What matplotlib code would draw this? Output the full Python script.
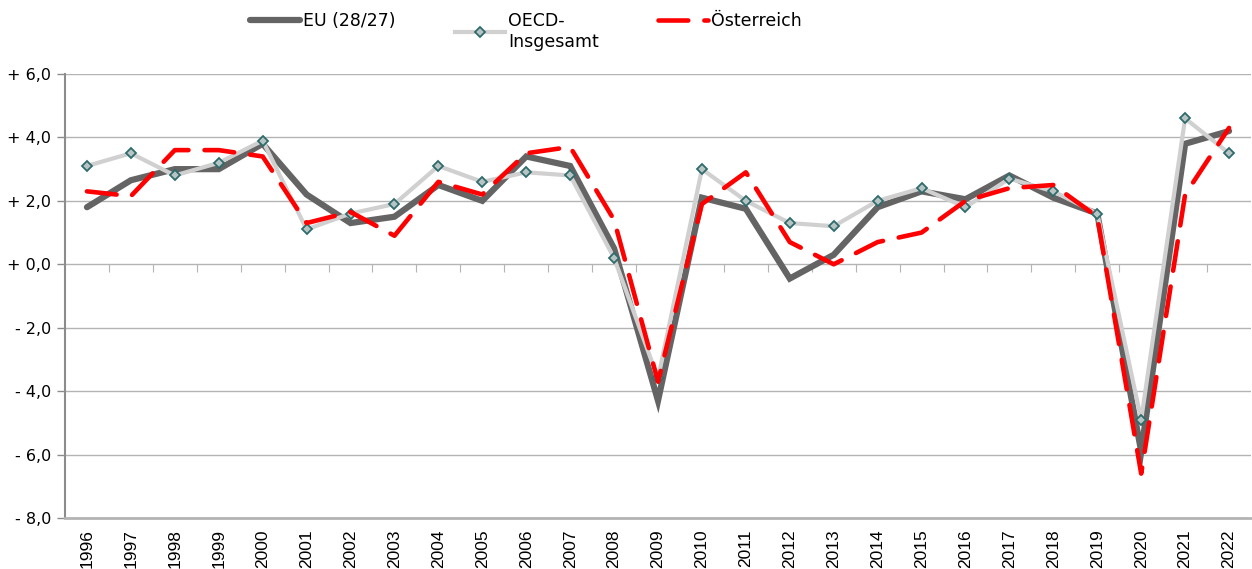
import numpy as np
import matplotlib
matplotlib.use('Agg')
import matplotlib.pyplot as plt
from matplotlib.ticker import FuncFormatter, FixedLocator

jahre = [str(j) for j in range(1996, 2023)]

eu = [1.8, 2.65, 3.0, 3.0, 3.8, 2.2, 1.3, 1.5, 2.5, 2.0, 3.4, 3.1, 0.5, -4.3,
      2.1, 1.75, -0.45, 0.3, 1.8, 2.3, 2.05, 2.8, 2.1, 1.6, -5.9, 3.8, 4.2]
oecd = [3.1, 3.5, 2.8, 3.2, 3.9, 1.1, 1.6, 1.9, 3.1, 2.6, 2.9, 2.8, 0.2, -3.6,
        3.0, 2.0, 1.3, 1.2, 2.0, 2.4, 1.8, 2.7, 2.3, 1.6, -4.9, 4.6, 3.5]
oesterreich = [2.3, 2.15, 3.6, 3.6, 3.4, 1.3, 1.65, 0.9, 2.6, 2.2, 3.5, 3.7, 1.4, -3.7,
               1.9, 2.9, 0.7, 0.0, 0.7, 1.0, 2.0, 2.4, 2.5, 1.5, -6.6, 2.2, 4.3]

x = np.arange(len(jahre))

fig = plt.figure(figsize=(12.52, 5.69), dpi=100)
ax = fig.add_axes([65 / 1252, 1 - 518 / 569, 1 - 65 / 1252 - 1 / 1252, (518 - 74) / 569])

l_eu, = ax.plot(x, eu, color='#646464', lw=4.5, solid_joinstyle='miter',
                solid_capstyle='round', zorder=3)
l_oecd, = ax.plot(x, oecd, color='#d0d0d0', lw=3.0, marker='D', markersize=5,
                  markerfacecolor='#b8c4c4', markeredgecolor='#2e6b6b',
                  markeredgewidth=1.3, zorder=4)
l_at, = ax.plot(x, oesterreich, color='#ff0000', lw=3.3, dashes=(6.5, 3.5),
                dash_capstyle='round', zorder=5)

ax.set_xlim(-0.5, len(jahre) - 0.5)
ax.set_ylim(-8, 6)
ax.set_yticks(np.arange(-8, 7, 2))
ax.yaxis.set_major_formatter(FuncFormatter(
    lambda v, p: ('+ ' if v >= 0 else '- ') + f'{abs(v):.1f}'.replace('.', ',')))
ax.grid(axis='y', color='#b4b4b4', lw=1.0)
ax.set_axisbelow(True)

for s in ['top', 'right']:
    ax.spines[s].set_visible(False)
ax.spines['left'].set_color('#8c8c8c')
ax.spines['left'].set_linewidth(1.5)
ax.spines['bottom'].set_color('#b4b4b4')
ax.spines['bottom'].set_linewidth(2)

ax.tick_params(axis='y', length=6, width=1, color='#8c8c8c', labelsize=11.5, pad=4)
ax.set_xticks(x)
ax.set_xticklabels(jahre, rotation=90, fontsize=12.5, family='Liberation Sans')
ax.tick_params(axis='x', length=0, pad=8)
for t in ax.get_yticklabels():
    t.set_family('DejaVu Sans')

# Kategorie-Striche an der Nulllinie
sec = ax.secondary_xaxis(8 / 14)
sec.xaxis.set_major_locator(FixedLocator(np.arange(0.5, len(jahre) - 1, 1)))
sec.tick_params(axis='x', direction='out', length=6, color='#b4b4b4', labelbottom=False,
                labeltop=False, bottom=True, top=False)
sec.spines['top'].set_visible(False)
sec.spines['bottom'].set_visible(False)
sec.xaxis.set_ticks_position('bottom')
sec.xaxis.set_major_formatter(FuncFormatter(lambda v, p: ''))

leg_kw = dict(frameon=False, fontsize=12.5, handlelength=2.9, handletextpad=0.15,
              loc='upper left', borderaxespad=0, borderpad=0, labelspacing=0.3)
fig.legend([l_eu], ['EU (28/27)'], bbox_to_anchor=(250 / 1252, 1 - 12 / 569), **leg_kw)
fig.legend([l_oecd], ['OECD-\nInsgesamt'], bbox_to_anchor=(455 / 1252, 1 - 12 / 569), **leg_kw)
fig.legend([l_at], ['Österreich'], bbox_to_anchor=(658 / 1252, 1 - 12 / 569), **leg_kw)

fig.savefig('out.png', dpi=100)
